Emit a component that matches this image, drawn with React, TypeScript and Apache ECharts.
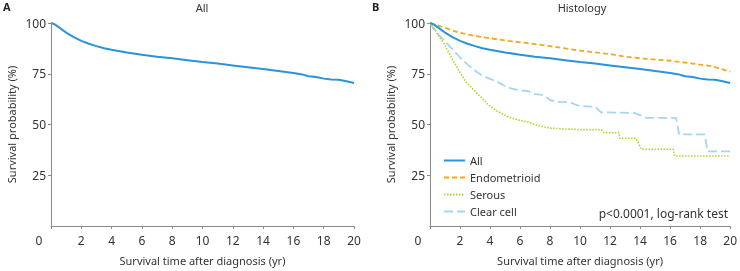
import React, { useEffect, useRef } from "react";
import * as echarts from "echarts";

const xTicks = [0, 2, 4, 6, 8, 10, 12, 14, 16, 18, 20];
const yTicks = [0, 25, 50, 75, 100];

const allData: [number, number][] = [
  [0, 100], [0.25, 99.3], [0.5, 98], [0.75, 96.6], [1, 95.3], [1.5, 93], [2, 91.2], [2.5, 89.8],
  [3, 88.6], [3.5, 87.6], [4, 86.8], [5, 85.5], [6, 84.4], [7, 83.4], [8, 82.6], [9, 81.7],
  [10, 80.8], [11, 80], [12, 79.1], [13, 78.2], [14, 77.3], [15, 76.4], [16, 75.4], [16.5, 74.8],
  [17, 73.8], [17.5, 73.4], [18, 72.6], [18.5, 72.2], [19, 72], [19.5, 71.3], [20, 70.4],
];

const endometrioidData: [number, number][] = [
  [0, 100], [0.5, 98.8], [1, 97.6], [1.5, 96.3], [2, 95.2], [3, 93.6], [4, 92.5], [5, 91.4],
  [6, 90.5], [7, 89.6], [8, 88.6], [9, 87.5], [10, 86.4], [11, 85.5], [12, 84.7], [13, 83.4],
  [14, 82.6], [15, 82], [16, 81.4], [17, 80.5], [18, 79.5], [18.7, 78.8], [19.3, 77.6], [20, 76],
];

const serousData: [number, number][] = [
  [0, 100], [0.3, 97], [0.6, 93.5], [1, 89], [1.5, 82], [2, 75.5], [2.5, 70], [3, 66.5],
  [3.5, 62.5], [4, 59], [4.5, 56.5], [5, 54.5], [5.5, 53], [6, 52], [6.5, 51.2], [7, 50],
  [7.5, 49], [8, 48.2], [9, 47.8], [10, 47.5], [11.4, 47.5], [11.6, 46], [12.6, 46],
  [12.65, 43.2], [13.7, 43.2], [14.1, 37.8], [16.2, 37.8], [16.3, 34.5], [20, 34.5],
];

const clearCellData: [number, number][] = [
  [0, 100], [0.3, 96.5], [0.6, 94], [1, 91], [1.5, 87], [2, 83], [2.5, 79.5], [3, 76.5],
  [3.5, 74], [4, 72.5], [4.5, 71], [5, 69], [5.5, 67.5], [6, 66.8], [6.5, 66.5], [7, 65],
  [7.6, 64.5], [8, 62], [8.5, 61.2], [9.3, 61], [9.8, 59.5], [10.3, 59], [11, 58.8], [11.4, 56],
  [13.6, 55.7], [14, 54.6], [14.4, 53.3], [16.4, 53.3], [16.6, 45.1], [18.3, 45.1],
  [18.5, 36.8], [20, 36.8],
];

const panelTitles = ["All", "Histology"];
const panelLetters = ["A", "B"];
const legendNames = ["All", "Endometrioid", "Serous", "Clear cell"];
const pText = "p<0.0001, log-rank test";
const xName = "Survival time after diagnosis (yr)";
const yName = "Survival probability (%)";

const FONT = "Noto Sans";
const TXT = "#333";
const AX = "#8a8a8a";
const C_ALL = "#2b93d8";
const C_END = "#f5a623";
const C_SER = "#b3d234";
const C_CLR = "#a6d5f1";

function App() {
  const ref = useRef<HTMLDivElement>(null);
  useEffect(() => {
    if (!ref.current) return;
    const chart = echarts.init(ref.current, null, { renderer: "svg" });
    const grids = [
      { left: 51, top: 23, width: 303, height: 204 },
      { left: 430, top: 23, width: 303, height: 204 },
    ];
    const mkX = (i: number) => ({
      type: "value",
      gridIndex: i,
      min: xTicks[0],
      max: xTicks[xTicks.length - 1],
      interval: 2,
      name: xName,
      nameLocation: "middle",
      nameGap: 29,
      nameTextStyle: { fontFamily: FONT, fontSize: 11, color: TXT },
      axisLine: { lineStyle: { color: AX, width: 1 } },
      axisTick: { show: true, length: 3, lineStyle: { color: AX } },
      splitLine: { show: false },
      axisLabel: {
        fontFamily: FONT,
        fontSize: 12,
        color: TXT,
        margin: 8,
        formatter: (v: number) => (v === 0 ? "{z|0}" : String(v)),
        rich: { z: { padding: [0, 24, 0, 0], fontFamily: FONT, fontSize: 12, color: TXT } },
      },
    });
    const mkY = (i: number) => ({
      type: "value",
      gridIndex: i,
      min: yTicks[0],
      max: yTicks[yTicks.length - 1],
      interval: 25,
      name: yName,
      nameLocation: "middle",
      nameGap: 34,
      nameTextStyle: { fontFamily: FONT, fontSize: 11, color: TXT },
      axisLine: { show: true, lineStyle: { color: AX, width: 1 } },
      axisTick: { show: true, length: 3, lineStyle: { color: AX } },
      splitLine: { show: false },
      axisLabel: {
        fontFamily: FONT,
        fontSize: 12,
        color: TXT,
        margin: 5,
        showMinLabel: false,
      },
    });
    const line = (name: string, data: [number, number][], idx: number, color: string, type: any, width: number) => ({
      type: "line",
      name,
      xAxisIndex: idx,
      yAxisIndex: idx,
      data,
      symbol: "none",
      showSymbol: false,
      lineStyle: { color, type, width },
      itemStyle: { color },
      z: 2,
    });
    chart.setOption({
      animation: false,
      grid: grids,
      xAxis: [mkX(0), mkX(1)],
      yAxis: [mkY(0), mkY(1)],
      legend: {
        data: legendNames,
        orient: "vertical",
        left: 443,
        top: 155,
        padding: 0,
        itemWidth: 21,
        itemHeight: 11,
        itemGap: 6,
        itemStyle: { opacity: 0 },
        textStyle: { fontFamily: FONT, fontSize: 11, color: TXT },
        selectedMode: false,
      },
      series: [
        line("All", allData, 0, C_ALL, "solid", 2),
        line("Clear cell", clearCellData, 1, C_CLR, [9, 4], 1.8),
        line("Serous", serousData, 1, C_SER, [1.5, 1.5], 1.6),
        line("Endometrioid", endometrioidData, 1, C_END, [5, 3], 1.8),
        line("All", allData, 1, C_ALL, "solid", 2),
      ],
      graphic: [
        { type: "text", left: 3, top: 1, style: { text: panelLetters[0], fontFamily: FONT, fontSize: 11, fontWeight: "bold", fill: "#222" } },
        { type: "text", left: 372, top: 1, style: { text: panelLetters[1], fontFamily: FONT, fontSize: 11, fontWeight: "bold", fill: "#222" } },
        { type: "text", x: 202, y: 7, style: { text: panelTitles[0], fontFamily: FONT, fontSize: 11, fill: TXT, align: "center", verticalAlign: "middle" } },
        { type: "text", x: 582, y: 7, style: { text: panelTitles[1], fontFamily: FONT, fontSize: 11, fill: TXT, align: "center", verticalAlign: "middle" } },
        { type: "text", x: 728, y: 213, style: { text: pText, fontFamily: FONT, fontSize: 12, fill: TXT, align: "right", verticalAlign: "middle" } },
      ],
    });
    return () => chart.dispose();
  }, []);
  return <div ref={ref} style={{ position: "fixed", left: 0, top: 0, width: 740, height: 271 }} />;
}

export default App;
